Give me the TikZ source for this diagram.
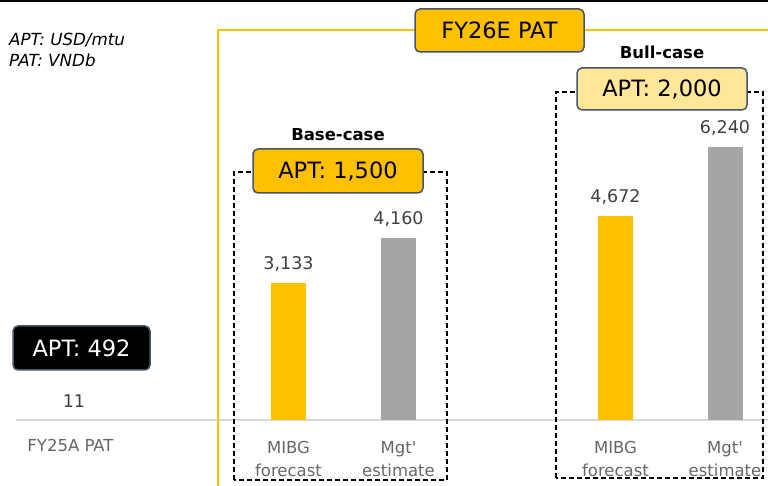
\documentclass[tikz,border=0pt]{standalone}
\usepackage{fontspec}
\setmainfont{DejaVu Sans}
\usetikzlibrary{positioning}

\definecolor{mbYellow}{HTML}{FFC000}
\definecolor{mbPale}{HTML}{FFE699}
\definecolor{mbSlate}{HTML}{44546A}
\definecolor{mbBar}{HTML}{A5A5A5}
\definecolor{mbAxis}{HTML}{D9D9D9}
\definecolor{mbInk}{HTML}{404040}
\definecolor{mbLabel}{HTML}{666666}

\begin{document}
\begin{tikzpicture}[
    x=1pt, y=1pt,
    font=\fontsize{16.5}{20}\selectfont,
    tag/.style={
        draw=mbSlate,
        line width=1.5pt,
        rounded corners=5pt,
        minimum width=170pt,
        minimum height=43pt,
        inner sep=0pt,
        font=\fontsize{22.5}{25}\selectfont
    },
    case/.style={font=\fontsize{16.5}{20}\selectfont\bfseries},
    bar/.style={minimum width=35pt, inner sep=0pt, outer sep=0pt, anchor=south},
    val/.style={text=mbInk, font=\fontsize{17.5}{20}\selectfont},
    cat/.style={text=mbLabel, anchor=base},
    group/.style={line width=1.5pt, dash pattern=on 5pt off 3pt}
]
\useasboundingbox (0,-66) rectangle (768,420);

% units
\node[anchor=north west, align=left, inner sep=0pt,
      font=\fontsize{16.7}{20.7}\selectfont\itshape] (units) at (9,387)
      {APT: USD/mtu\\PAT: VNDb};

% top rule and axis
\draw[line width=2.5pt] (0,418.75) -- (768,418.75);
\draw[mbAxis, line width=1.5pt] (16,0) -- (768,0);

% FY26E frame
\draw[mbYellow, line width=2pt] (218,-66) |- (768,390);

% base and bull groups
\draw[group] (234,-60) rectangle (447,248);
\draw[group] (556,-58) rectangle (763,328);

% bars, PAT in VNDb
\foreach \n/\x/\v/\t/\c in {fy/74/11/11/none,
                            baseA/288.5/3133/{3,133}/mbYellow,
                            baseB/398.5/4160/{4,160}/mbBar,
                            bullA/615.5/4672/{4,672}/mbYellow,
                            bullB/725/6240/{6,240}/mbBar}
{
    \node[bar, fill=\c, minimum height=\v*0.04375pt] (\n) at (\x,0) {};
    \node[val, above=8pt of \n] (\n-val) {\t};
}

% category labels
\node[cat] (fy-cat) at (70.5,-32) {FY25A PAT};
\foreach \n/\x/\a/\b in {baseA/288.5/MIBG/forecast,
                         baseB/398.5/Mgt\textquotesingle/estimate,
                         bullA/615.5/MIBG/forecast,
                         bullB/725/Mgt\textquotesingle/estimate}
{
    \node[cat] (\n-cat) at (\x,-33.3) {\a};
    \node[cat] (\n-sub) at (\x,-56.7) {\b};
}

% price tags
\node[tag, fill=mbYellow, minimum width=169pt] (fy26) at (499.5,389.5) {FY26E PAT};
\node[tag, fill=mbYellow, minimum height=44pt] (aptBase) at (338,249) {APT: 1,500};
\node[tag, fill=mbPale, minimum height=42pt] (aptBull) at (662,331) {APT: 2,000};
\node[tag, fill=black, text=white, minimum width=137pt, minimum height=44pt] (aptNow) at (81.5,72) {APT: 492};

\node[case, above=4pt of aptBase] (baseCase) {Base-case};
\node[case, above=5pt of aptBull] (bullCase) {Bull-case};
\end{tikzpicture}
\end{document}
